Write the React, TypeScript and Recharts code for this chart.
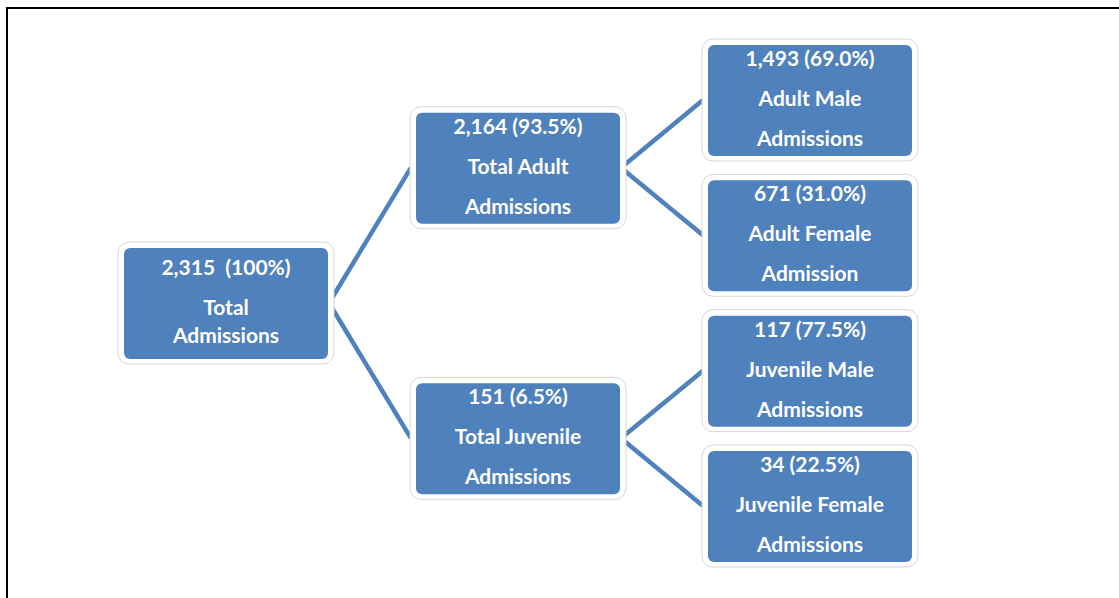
import { ScatterChart, Scatter, XAxis, YAxis } from "recharts"

// tree of admissions: level = column, row = vertical slot (leaves on 0..3)
const nodeLevels = [0, 1, 1, 2, 2, 2, 2]
const nodeRows = [1.5, 0.5, 2.5, 0, 1, 2, 3]
const nodeCounts = ["2,315 ", "2,164", "151", "1,493", "671", "117", "34"]
const nodeShares = ["100%", "93.5%", "6.5%", "69.0%", "31.0%", "77.5%", "22.5%"]
const nodeTitles = ["Total", "Total Adult", "Total Juvenile", "Adult Male", "Adult Female", "Juvenile Male", "Juvenile Female"]
const nodeSubtitles = ["Admissions", "Admissions", "Admissions", "Admissions", "Admission", "Admissions", "Admissions"]
const edgeFrom = [0, 0, 1, 1, 2, 2]
const edgeTo = [1, 2, 3, 4, 5, 6]

const BLUE = "#4F81BD"

const nodes = nodeLevels.map((level, i) => ({
  level,
  row: nodeRows[i],
  head: `${nodeCounts[i]} (${nodeShares[i]})`,
  title: nodeTitles[i],
  sub: nodeSubtitles[i],
}))

const edges = edgeFrom.map((from, i) => [
  { level: nodeLevels[from], row: nodeRows[from] },
  { level: nodeLevels[edgeTo[i]], row: nodeRows[edgeTo[i]] },
])

function NodeBox(props: any) {
  const { cx, cy, payload } = props
  const isRoot = payload.level === 0
  const offs = isRoot ? [-28, 12, 40] : [-34, 6, 46]
  const textStyle = {
    fontFamily: "Lato, 'Open Sans', sans-serif",
    fontSize: 21,
    fontWeight: 700,
    whiteSpace: "pre" as const,
  }
  return (
    <g>
      <rect x={cx - 108} y={cy - 61} width={216} height={122} rx={11} fill="#fff" stroke="#d6d6d6" />
      <rect x={cx - 102} y={cy - 55} width={204} height={111} rx={6} fill={BLUE} />
      <text x={cx} y={cy + offs[0]} textAnchor="middle" fill="#fff" style={textStyle}>{payload.head}</text>
      <text x={cx} y={cy + offs[1]} textAnchor="middle" fill="#fff" style={textStyle}>{payload.title}</text>
      <text x={cx} y={cy + offs[2]} textAnchor="middle" fill="#fff" style={textStyle}>{payload.sub}</text>
    </g>
  )
}

function EdgeLine(props: any) {
  const pts = props.points
  if (!pts || pts.length < 2) return <g />
  const [a, b] = pts
  return (
    <path
      d={`M${a.x + 103},${a.y}L${b.x - 107},${b.y}`}
      stroke={BLUE}
      strokeWidth={4.5}
      fill="none"
    />
  )
}

export default function App() {
  return (
    <div style={{ position: "absolute", left: 0, top: 0, width: 1119, height: 598, background: "#fff", overflow: "hidden" }}>
      <div
        style={{
          position: "absolute",
          left: 6,
          top: 7,
          width: 1300,
          height: 800,
          borderLeft: "2.5px solid #000",
          borderTop: "2.5px solid #000",
        }}
      />
      <div style={{ position: "absolute", left: 0, top: 0 }}>
        <ScatterChart width={1119} height={598} margin={{ top: 100, right: 309, bottom: 92, left: 226 }}>
          <XAxis type="number" dataKey="level" domain={[0, 2]} hide />
          <YAxis type="number" dataKey="row" domain={[0, 3]} reversed hide />
          {edges.map((e, i) => (
            <Scatter
              key={`edge-${i}`}
              data={e}
              line={EdgeLine}
              shape={() => <g />}
              isAnimationActive={false}
            />
          ))}
          <Scatter data={nodes} shape={NodeBox} isAnimationActive={false} />
        </ScatterChart>
      </div>
    </div>
  )
}
